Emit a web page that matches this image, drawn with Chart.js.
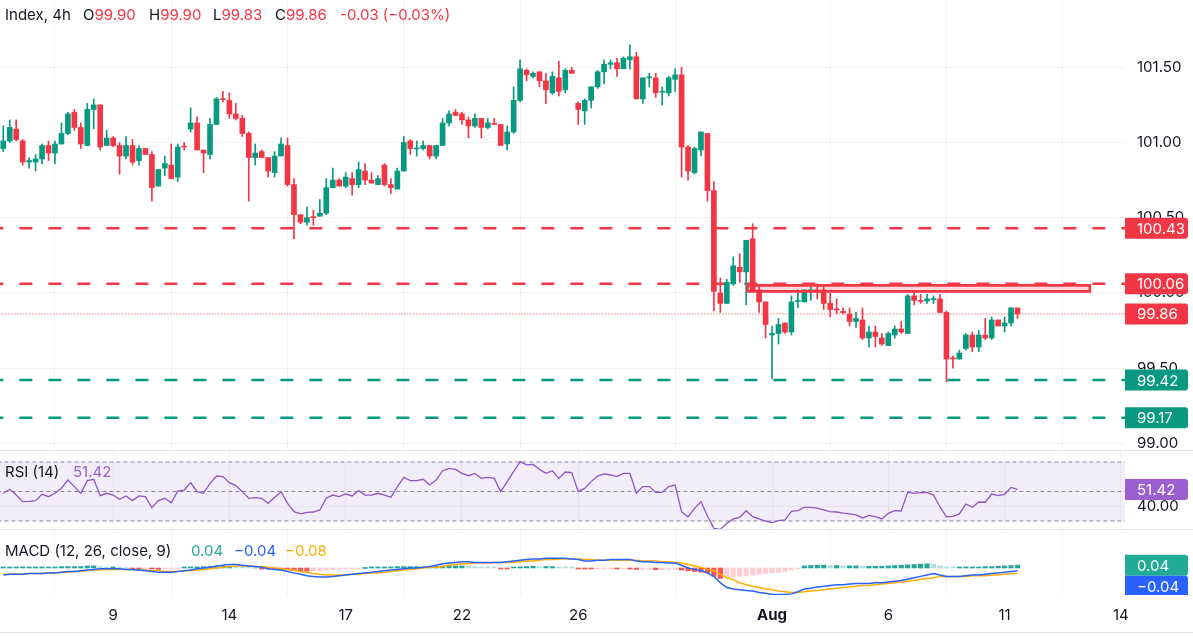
<!DOCTYPE html>
<html>
<head>
<meta charset="utf-8">
<title>Index, 4h</title>
<script src="https://cdn.jsdelivr.net/npm/chart.js@4.4.1/dist/chart.umd.min.js"></script>
<style>
body { margin: 0; background: #fff; font-family: Inter, "Noto Sans", sans-serif; color: #131722; }
#wrap { position: relative; width: 1193px; height: 637px; overflow: hidden; }
canvas { position: absolute; left: 0; }
.t { position: absolute; font-size: 15px; line-height: 18px; white-space: nowrap; }
.sep { position: absolute; left: 0; width: 1193px; height: 1px; background: #e0e3eb; }
.r { color: #F23645; }
</style>
</head>
<body>
<div id="wrap">
  <canvas id="main" width="1193" height="449" style="top:0"></canvas>
  <div class="sep" style="top:450px"></div>
  <canvas id="rsi" width="1193" height="78" style="top:451px"></canvas>
  <div class="sep" style="top:529px"></div>
  <canvas id="macd" width="1193" height="102" style="top:530px"></canvas>
  <div class="sep" style="top:632px"></div>

  <div class="t" style="left:5px;top:6px">Index, 4h</div>
  <div class="t" style="left:83px;top:6px">O<span class="r">99.90</span></div>
  <div class="t" style="left:149px;top:6px">H<span class="r">99.90</span></div>
  <div class="t" style="left:213px;top:6px">L<span class="r">99.83</span></div>
  <div class="t" style="left:275px;top:6px">C<span class="r">99.86</span></div>
  <div class="t r" style="left:340px;top:6px">-0.03 (−0.03%)</div>

  <div class="t" style="left:5px;top:463px">RSI (14)</div>
  <div class="t" style="left:73px;top:463px;color:#9C5FCF">51.42</div>

  <div class="t" style="left:5px;top:542px">MACD (12, 26, close, 9)</div>
  <div class="t" style="left:191px;top:542px;color:#22AB94">0.04</div>
  <div class="t" style="left:234px;top:542px;color:#2962FF">−0.04</div>
  <div class="t" style="left:285px;top:542px;color:#FFAD00">−0.08</div>
</div>
<script>
// 4h candles
let openP = [100.96,101.01,101.09,101.01,100.87,100.87,100.89,100.98,100.93,100.99,
101.06,101.20,101.10,100.98,101.22,101.25,100.98,101.03,100.98,100.91,
100.98,100.88,100.96,100.92,100.71,100.83,100.85,100.77,100.975,101.09,
101.13,100.95,100.92,101.12,101.29,101.28,101.19,101.16,101.06,100.90,
100.94,100.90,100.80,100.91,100.98,100.72,100.52,100.47,100.507,100.51,
100.53,100.70,100.75,100.71,100.76,100.72,100.81,100.75,100.72,100.85,
100.72,100.69,100.81,101.01,100.957,100.96,100.98,100.91,100.98,101.13,
101.20,101.19,101.15,101.11,101.16,101.10,101.128,101.12,100.99,101.07,
101.28,101.48,101.44,101.47,101.41,101.33,101.43,101.35,101.48,101.26,
101.21,101.28,101.37,101.47,101.52,101.53,101.49,101.55,101.57,101.29,
101.43,101.43,101.335,101.33,101.42,101.45,100.97,100.80,100.95,101.06,
100.68,100.00,99.93,100.06,100.17,100.14,100.36,100.02,99.94,99.72,
99.73,99.80,99.74,99.943,99.94,100.014,100.02,100.02,99.93,99.89,
99.877,99.86,99.81,99.82,99.70,99.74,99.70,99.65,99.72,99.76,
99.73,99.98,99.95,99.946,99.955,99.96,99.87,99.568,99.56,99.63,
99.72,99.64,99.72,99.70,99.82,99.78,99.80,99.90];
let highP = [101.11,101.15,101.15,101.02,100.90,100.92,100.99,101.01,101.01,101.13,
101.20,101.22,101.13,101.26,101.29,101.25,101.08,101.04,101.00,101.04,
101.02,100.98,100.96,100.94,100.82,100.91,100.99,100.99,101.00,101.23,
101.17,100.95,101.16,101.30,101.34,101.33,101.26,101.18,101.07,100.99,
100.95,100.90,100.94,101.03,101.03,100.76,100.52,100.57,100.55,100.62,
100.76,100.83,100.76,100.80,100.80,100.87,100.86,100.80,100.78,100.86,
100.76,100.83,101.04,101.02,101.01,101.01,100.98,100.98,101.16,101.21,
101.22,101.20,101.17,101.19,101.16,101.16,101.16,101.12,101.11,101.37,
101.55,101.49,101.47,101.47,101.46,101.47,101.54,101.49,101.50,101.27,
101.29,101.37,101.48,101.55,101.55,101.56,101.57,101.65,101.60,101.43,
101.46,101.46,101.37,101.44,101.49,101.50,100.98,100.97,101.07,101.06,
100.74,100.10,100.09,100.24,100.26,100.35,100.46,100.05,99.94,99.78,
99.83,99.80,99.98,100.02,100.02,100.05,100.06,100.05,100.00,99.96,
99.90,99.90,99.87,99.90,99.78,99.78,99.73,99.74,99.78,99.81,
99.99,100.01,99.99,99.99,99.98,99.99,99.88,99.58,99.62,99.73,
99.74,99.75,99.83,99.84,99.82,99.84,99.90,99.90];
let lowP = [100.94,101.00,101.01,100.85,100.83,100.81,100.86,100.88,100.86,100.99,
101.05,101.08,100.96,100.98,101.09,100.95,100.98,100.97,100.79,100.89,
100.85,100.85,100.92,100.61,100.71,100.78,100.76,100.74,100.95,101.07,
100.95,100.80,100.89,101.12,101.27,101.16,101.15,101.04,100.61,100.85,
100.90,100.77,100.77,100.91,100.71,100.36,100.46,100.45,100.45,100.51,
100.52,100.70,100.71,100.70,100.65,100.70,100.72,100.73,100.72,100.71,
100.66,100.69,100.81,100.92,100.91,100.95,100.89,100.89,100.98,101.11,
101.18,101.12,101.03,101.10,101.03,101.09,101.12,100.98,100.95,101.06,
101.27,101.41,101.43,101.37,101.26,101.32,101.31,101.33,101.46,101.12,
101.12,101.23,101.36,101.39,101.49,101.44,101.49,101.49,101.29,101.26,
101.37,101.30,101.25,101.31,101.34,100.77,100.75,100.79,100.91,100.61,
99.88,99.87,99.93,100.05,100.07,99.92,100.01,99.87,99.70,99.43,
99.66,99.73,99.72,99.90,99.94,99.95,99.96,99.89,99.84,99.86,
99.86,99.78,99.77,99.69,99.64,99.64,99.65,99.65,99.70,99.73,
99.73,99.92,99.93,99.93,99.93,99.87,99.41,99.50,99.56,99.62,
99.61,99.61,99.69,99.69,99.78,99.74,99.78,99.83];
let closeP = [101.01,101.10,101.02,100.87,100.88,100.89,100.98,100.93,100.99,101.06,
101.19,101.10,100.99,101.22,101.25,100.97,101.03,100.98,100.91,100.98,
100.87,100.96,100.92,100.70,100.82,100.86,100.76,100.97,100.97,101.13,
100.95,100.93,101.12,101.29,101.285,101.19,101.16,101.06,100.90,100.93,
100.90,100.81,100.91,100.99,100.72,100.52,100.47,100.50,100.50,100.53,
100.70,100.75,100.71,100.77,100.72,100.82,100.75,100.73,100.76,100.72,
100.70,100.81,101.00,100.96,100.963,100.98,100.91,100.98,101.13,101.19,
101.18,101.15,101.11,101.16,101.10,101.13,101.12,100.98,101.07,101.28,
101.49,101.45,101.46,101.41,101.35,101.44,101.34,101.48,101.46,101.22,
101.28,101.37,101.47,101.52,101.53,101.49,101.56,101.57,101.29,101.43,
101.435,101.33,101.34,101.43,101.45,100.97,100.81,100.96,101.07,100.68,
100.01,99.93,100.07,100.18,100.14,100.35,100.01,99.94,99.79,99.73,
99.79,99.74,99.94,99.948,100.02,100.019,100.012,99.93,99.89,99.886,
99.868,99.81,99.83,99.70,99.74,99.71,99.66,99.73,99.76,99.74,
99.98,99.95,99.944,99.96,99.959,99.87,99.56,99.561,99.60,99.72,
99.64,99.72,99.70,99.82,99.78,99.80,99.90,99.86];

// RSI (14)
let rsiVals = [48.8,51.5,47.6,43.1,43.3,43.8,48.1,46.5,48.8,52.2,
57.8,53.3,48.8,57.4,58.3,47.2,48.8,47.6,44.7,47.0,
43.8,47.0,46.5,39.0,43.8,45.4,42.4,50.3,51.0,56.0,
49.9,48.8,55.5,60.5,60.1,56.0,54.0,49.9,45.4,45.8,
45.4,42.0,46.1,49.9,42.0,36.3,34.8,35.9,36.1,37.5,
45.4,47.6,46.5,48.3,47.0,50.6,47.6,47.6,48.8,47.6,
46.1,53.3,59.6,57.4,57.4,58.3,54.4,57.8,64.1,65.7,
65.0,62.3,60.7,62.3,58.9,59.6,58.9,49.9,56.7,63.5,
70.2,68.0,68.4,65.0,62.3,64.1,58.9,63.2,62.8,49.9,
52.1,56.7,60.5,61.9,61.2,60.1,62.3,62.3,48.8,53.3,
53.3,49.4,49.4,53.3,54.4,36.3,32.9,38.6,43.1,33.4,
25.0,24.3,28.4,31.4,32.5,37.0,32.9,31.4,30.0,28.9,
30.2,30.7,36.6,37.0,39.3,39.3,38.8,37.5,36.3,36.1,
35.4,34.8,34.1,32.0,33.8,32.9,31.4,35.2,37.0,36.8,
49.4,48.8,49.2,49.4,47.6,39.7,32.9,33.2,34.8,41.5,
39.3,42.9,42.7,48.3,47.2,48.1,52.8,51.42];
let rsiBands = [70, 50, 30];

// MACD (12, 26, close, 9)
let macdVals = [-0.10,-0.09,-0.09,-0.09,-0.08,-0.08,-0.08,-0.07,-0.07,-0.06,
-0.05,-0.05,-0.04,-0.03,-0.02,-0.01,-0.01,-0.01,-0.01,-0.02,
-0.02,-0.03,-0.04,-0.05,-0.06,-0.06,-0.06,-0.05,-0.04,-0.03,
-0.01,0.00,0.01,0.03,0.04,0.05,0.05,0.04,0.03,0.02,
0.01,-0.01,-0.02,-0.03,-0.05,-0.07,-0.09,-0.11,-0.12,-0.13,
-0.13,-0.12,-0.11,-0.10,-0.09,-0.08,-0.07,-0.06,-0.05,-0.04,
-0.03,-0.02,-0.01,0.00,0.00,0.01,0.02,0.04,0.06,0.07,
0.08,0.09,0.09,0.08,0.08,0.08,0.08,0.08,0.09,0.10,
0.11,0.12,0.13,0.13,0.14,0.14,0.14,0.14,0.13,0.12,
0.10,0.10,0.11,0.11,0.12,0.12,0.12,0.12,0.10,0.09,
0.09,0.08,0.08,0.07,0.07,0.04,0.00,-0.02,-0.04,-0.07,
-0.12,-0.21,-0.28,-0.30,-0.31,-0.32,-0.33,-0.35,-0.36,-0.38,
-0.38,-0.38,-0.37,-0.34,-0.30,-0.29,-0.27,-0.26,-0.25,-0.24,
-0.24,-0.23,-0.22,-0.22,-0.22,-0.21,-0.21,-0.20,-0.19,-0.18,
-0.16,-0.14,-0.12,-0.10,-0.08,-0.10,-0.12,-0.12,-0.12,-0.11,
-0.10,-0.10,-0.09,-0.08,-0.07,-0.06,-0.05,-0.04];
let signalVals = [-0.09,-0.09,-0.09,-0.09,-0.08,-0.08,-0.08,-0.07,-0.07,-0.06,
-0.06,-0.05,-0.05,-0.04,-0.03,-0.03,-0.02,-0.02,-0.02,-0.02,
-0.02,-0.03,-0.03,-0.04,-0.04,-0.05,-0.05,-0.05,-0.04,-0.04,
-0.03,-0.02,-0.01,0.00,0.01,0.02,0.03,0.03,0.03,0.02,
0.02,0.01,0.00,-0.01,-0.02,-0.03,-0.05,-0.06,-0.08,-0.09,
-0.10,-0.10,-0.10,-0.10,-0.09,-0.09,-0.08,-0.07,-0.07,-0.06,
-0.05,-0.04,-0.03,-0.02,-0.01,0.00,0.01,0.01,0.02,0.04,
0.05,0.06,0.06,0.07,0.07,0.07,0.08,0.08,0.08,0.08,
0.09,0.10,0.10,0.11,0.12,0.12,0.13,0.13,0.13,0.13,
0.12,0.12,0.11,0.11,0.11,0.11,0.11,0.11,0.11,0.10,
0.10,0.10,0.09,0.09,0.08,0.07,0.05,0.03,0.01,-0.02,
-0.04,-0.09,-0.14,-0.17,-0.21,-0.24,-0.26,-0.28,-0.30,-0.31,
-0.33,-0.34,-0.35,-0.35,-0.34,-0.33,-0.32,-0.31,-0.30,-0.29,
-0.28,-0.27,-0.26,-0.25,-0.25,-0.24,-0.23,-0.22,-0.21,-0.20,
-0.19,-0.18,-0.16,-0.15,-0.14,-0.12,-0.12,-0.12,-0.12,-0.12,
-0.11,-0.11,-0.11,-0.10,-0.10,-0.09,-0.08,-0.08];
let histVals = [0.01,0.01,0.01,0.01,0.01,0.01,0.01,0.01,0.01,0.02,
0.02,0.02,0.02,0.03,0.03,0.02,0.01,0.01,0.005,0.00,
-0.005,-0.01,-0.01,-0.015,-0.02,-0.015,-0.01,-0.005,0.005,0.01,
0.015,0.02,0.02,0.02,0.025,0.025,0.02,0.01,0.005,0.00,
-0.005,-0.01,-0.015,-0.02,-0.025,-0.035,-0.04,-0.045,-0.04,-0.04,
-0.03,-0.025,-0.02,-0.015,-0.01,-0.005,0.00,0.005,0.01,0.01,
0.015,0.02,0.02,0.02,0.02,0.015,0.02,0.025,0.03,0.03,
0.03,0.03,0.025,0.02,0.015,0.01,0.005,-0.005,-0.01,0.005,
0.015,0.02,0.025,0.02,0.02,0.02,0.015,0.01,0.005,-0.005,
-0.01,-0.015,-0.005,-0.005,-0.005,-0.01,-0.01,-0.015,-0.02,-0.02,
-0.02,-0.025,-0.025,-0.02,-0.02,-0.03,-0.04,-0.05,-0.06,-0.07,
-0.12,-0.15,-0.14,-0.13,-0.12,-0.11,-0.10,-0.09,-0.08,-0.07,
-0.06,-0.05,-0.03,-0.01,0.03,0.035,0.04,0.04,0.035,0.035,
0.03,0.03,0.03,0.025,0.025,0.025,0.025,0.03,0.035,0.04,
0.045,0.05,0.055,0.06,0.055,0.03,0.015,0.01,0.01,0.01,
0.01,0.015,0.02,0.02,0.025,0.03,0.035,0.04];

// horizontal levels and the zone
let levelValues = [100.43, 100.06, 99.42, 99.17];
let levelKinds = ['res', 'res', 'sup', 'sup'];
let lastClose = 99.86;
let zoneTop = 100.05, zoneBottom = 100.01, zoneStart = 115.2, zoneEnd = 168.2;

// axis labels
let priceTicks = [99.0, 99.5, 100.0, 100.5, 101.0, 101.5];
let tickIdx = [17, 35, 53, 71, 89, 119, 137, 155, 173];
let tickText = ['9', '14', '17', '22', '26', 'Aug', '6', '11', '14'];

const UP = '#089981', DOWN = '#F23645';
const GRID = 'rgba(42,46,57,0.06)', TXT = '#131722';
const FONT = 'Inter, "Noto Sans", sans-serif';
const xMin = -0.51, xMax = 173.64;

const priceTags = {
  id: 'priceTags',
  afterDraw(chart, args, opts) {
    const tags = opts.tags;
    if (!tags || !tags.length) return;
    const ctx = chart.ctx, ys = chart.scales.y, area = chart.chartArea;
    const h = 21, w = 63, left = area.right;
    ctx.save();
    ctx.beginPath();
    ctx.rect(left, area.top, chart.width - left, area.bottom - area.top);
    ctx.clip();
    ctx.font = '15px ' + FONT;
    ctx.textBaseline = 'middle';
    let prevBottom = -Infinity;
    tags.map(t => ({ t, cy: ys.getPixelForValue(t.value) }))
      .sort((a, b) => a.cy - b.cy)
      .forEach(({ t, cy }) => {
        if (cy - h / 2 < prevBottom) cy = prevBottom + h / 2;
        ctx.fillStyle = t.bg;
        ctx.beginPath();
        ctx.roundRect(left, cy - h / 2, w, h, [0, 3, 3, 0]);
        ctx.fill();
        ctx.fillStyle = '#fff';
        ctx.fillText(t.text, left + 12, cy + 1);
        prevBottom = cy + h / 2;
      });
    ctx.restore();
  }
};
Chart.register(priceTags);

// no label padding around the plot area, the panels sit edge to edge
function noPad(s) {
  s.paddingTop = 0; s.paddingBottom = 0; s.paddingLeft = 0; s.paddingRight = 0;
}

function xScale(showLabels) {
  return {
    type: 'linear', min: xMin, max: xMax, offset: false,
    afterBuildTicks: s => { s.ticks = tickIdx.map(v => ({ value: v })); },
    afterFit: s => { s.height = showLabels ? 37 : 0; noPad(s); },
    grid: { color: GRID, drawTicks: false },
    border: { display: false },
    ticks: {
      display: showLabels, autoSkip: false, maxRotation: 0, padding: 11, color: TXT,
      font: c => ({ family: FONT, size: 15, weight: tickText[c.index] === 'Aug' ? 'bold' : 'normal' }),
      callback: (v, i) => tickText[i]
    }
  };
}

function flatLine(v, color, width, dash, order) {
  return {
    type: 'line', data: [{ x: -2, y: v }, { x: 180, y: v }],
    borderColor: color, borderWidth: width, borderDash: dash,
    pointRadius: 0, fill: false, order: order
  };
}

const common = {
  responsive: false, animation: false,
  layout: { padding: 0, autoPadding: false },
  plugins: { legend: { display: false }, tooltip: { enabled: false } }
};

// main price panel
const candleColors = closeP.map((c, i) => c >= openP[i] ? UP : DOWN);
const mainSets = [];
levelValues.forEach((v, i) => {
  mainSets.push(flatLine(v, levelKinds[i] === 'res' ? DOWN : UP, 2.5, [13, 16], 5));
});
mainSets.push(flatLine(lastClose, DOWN, 1, [1, 2], 4));
mainSets.push({
  type: 'bar', data: lowP.map((l, i) => ({ x: i, y: [l, highP[i]] })),
  backgroundColor: candleColors, barThickness: 1, grouped: false, order: 3
});
mainSets.push({
  type: 'bar', data: openP.map((o, i) => ({ x: i, y: [o, closeP[i]] })),
  backgroundColor: candleColors, barThickness: 5, minBarLength: 1, grouped: false, order: 2
});
mainSets.push({
  type: 'line',
  data: [{ x: zoneStart, y: zoneTop }, { x: zoneEnd, y: zoneTop }, { x: zoneEnd, y: zoneBottom },
         { x: zoneStart, y: zoneBottom }, { x: zoneStart, y: zoneTop }],
  borderColor: DOWN, borderWidth: 2.6, backgroundColor: 'rgba(242,54,69,0.18)',
  fill: 'shape', pointRadius: 0, order: 1
});

const mainTags = levelValues.map((v, i) => ({ value: v, text: v.toFixed(2), bg: levelKinds[i] === 'res' ? DOWN : UP }));
mainTags.push({ value: lastClose, text: lastClose.toFixed(2), bg: DOWN });

new Chart(document.getElementById('main'), {
  type: 'bar',
  data: { datasets: mainSets },
  options: Object.assign({}, common, {
    plugins: Object.assign({}, common.plugins, { priceTags: { tags: mainTags } }),
    scales: {
      x: xScale(false),
      y: {
        position: 'right', min: 98.962, max: 101.9475,
        afterBuildTicks: s => { s.ticks = priceTicks.map(v => ({ value: v })); },
        afterFit: s => { s.width = 68; noPad(s); },
        grid: { color: GRID, drawTicks: false },
        border: { display: false },
        ticks: { padding: 12, color: TXT, font: { family: FONT, size: 15 }, callback: v => v.toFixed(2) }
      }
    }
  })
});

// RSI panel
const rsiSets = [
  Object.assign(flatLine(rsiBands[0], '#8a8d96', 1, [4, 3], 3), { fill: '+2', backgroundColor: 'rgba(126,87,194,0.1)' }),
  flatLine(rsiBands[1], '#8a8d96', 1, [4, 3], 3),
  flatLine(rsiBands[2], '#8a8d96', 1, [4, 3], 3),
  {
    type: 'line', data: rsiVals.map((v, i) => ({ x: i, y: v })),
    borderColor: '#8E56C7', borderWidth: 1.3, pointRadius: 0, fill: false, order: 1
  }
];
new Chart(document.getElementById('rsi'), {
  type: 'line',
  data: { datasets: rsiSets },
  options: Object.assign({}, common, {
    plugins: Object.assign({}, common.plugins, {
      priceTags: { tags: [{ value: rsiVals[rsiVals.length - 1], text: rsiVals[rsiVals.length - 1].toFixed(2), bg: '#9C5FCF' }] }
    }),
    scales: {
      x: xScale(false),
      y: {
        position: 'right', min: 24.58, max: 77.46,
        afterBuildTicks: s => { s.ticks = [{ value: 40 }]; },
        afterFit: s => { s.width = 68; noPad(s); },
        grid: { color: GRID, drawTicks: false },
        border: { display: false },
        ticks: { padding: 12, color: TXT, font: { family: FONT, size: 15 }, callback: v => v.toFixed(2) }
      }
    }
  })
});

// MACD panel
const histColors = histVals.map((v, i) => {
  const p = i ? histVals[i - 1] : v;
  if (v >= 0) return v >= p ? '#26A69A' : '#B2DFDB';
  return v < p ? '#FF5252' : '#FFCDD2';
});
const macdSets = [
  {
    type: 'bar', data: histVals.map((v, i) => ({ x: i, y: v })),
    backgroundColor: histColors, barThickness: 4.5, minBarLength: 1, order: 3
  },
  {
    type: 'line', data: signalVals.map((v, i) => ({ x: i, y: v })),
    borderColor: '#FFAD00', borderWidth: 1.5, pointRadius: 0, fill: false, order: 2
  },
  {
    type: 'line', data: macdVals.map((v, i) => ({ x: i, y: v })),
    borderColor: '#2962FF', borderWidth: 1.5, pointRadius: 0, fill: false, order: 1
  }
];
const lastHist = histVals[histVals.length - 1], lastMacd = macdVals[macdVals.length - 1];
new Chart(document.getElementById('macd'), {
  type: 'bar',
  data: { datasets: macdSets },
  options: Object.assign({}, common, {
    plugins: Object.assign({}, common.plugins, {
      priceTags: { tags: [
        { value: lastHist, text: lastHist.toFixed(2), bg: '#22AB94' },
        { value: lastMacd, text: '−' + Math.abs(lastMacd).toFixed(2), bg: '#2962FF' }
      ] }
    }),
    scales: {
      x: xScale(true),
      y: {
        position: 'right', min: -0.386, max: 0.543,
        afterFit: s => { s.width = 68; noPad(s); },
        grid: { display: false },
        border: { display: false },
        ticks: { display: false }
      }
    }
  })
});
</script>
</body>
</html>
